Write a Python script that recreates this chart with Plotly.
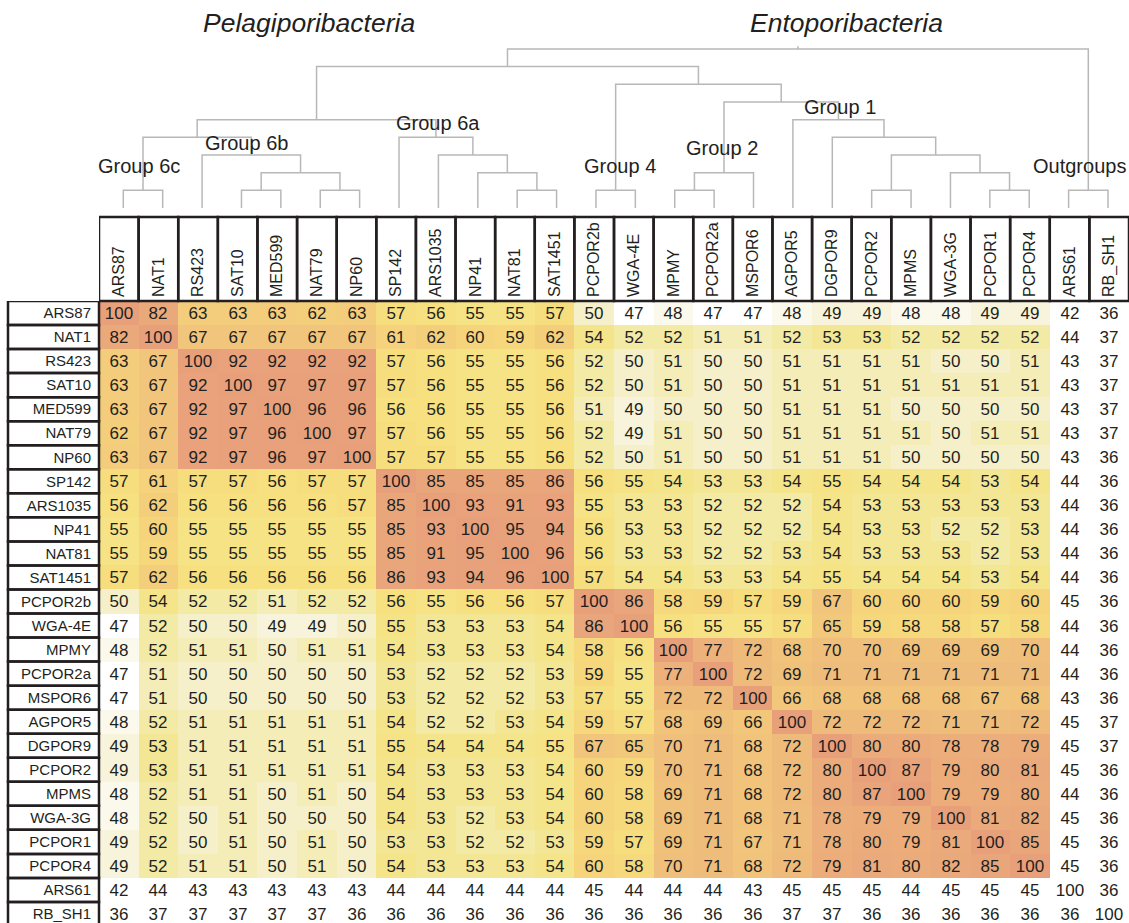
import plotly.graph_objects as go

# ---------------- data ----------------
strains = ["ARS87", "NAT1", "RS423", "SAT10", "MED599", "NAT79", "NP60",
           "SP142", "ARS1035", "NP41", "NAT81", "SAT1451",
           "PCPOR2b", "WGA-4E", "MPMY", "PCPOR2a", "MSPOR6", "AGPOR5",
           "DGPOR9", "PCPOR2", "MPMS", "WGA-3G", "PCPOR1", "PCPOR4",
           "ARS61", "RB_SH1"]
outgroups = ["ARS61", "RB_SH1"]

identity = [
    [100, 82, 63, 63, 63, 62, 63, 57, 56, 55, 55, 57, 50, 47, 48, 47, 47, 48, 49, 49, 48, 48, 49, 49, 42, 36],
    [82, 100, 67, 67, 67, 67, 67, 61, 62, 60, 59, 62, 54, 52, 52, 51, 51, 52, 53, 53, 52, 52, 52, 52, 44, 37],
    [63, 67, 100, 92, 92, 92, 92, 57, 56, 55, 55, 56, 52, 50, 51, 50, 50, 51, 51, 51, 51, 50, 50, 51, 43, 37],
    [63, 67, 92, 100, 97, 97, 97, 57, 56, 55, 55, 56, 52, 50, 51, 50, 50, 51, 51, 51, 51, 51, 51, 51, 43, 37],
    [63, 67, 92, 97, 100, 96, 96, 56, 56, 55, 55, 56, 51, 49, 50, 50, 50, 51, 51, 51, 50, 50, 50, 50, 43, 37],
    [62, 67, 92, 97, 96, 100, 97, 57, 56, 55, 55, 56, 52, 49, 51, 50, 50, 51, 51, 51, 51, 50, 51, 51, 43, 37],
    [63, 67, 92, 97, 96, 97, 100, 57, 57, 55, 55, 56, 52, 50, 51, 50, 50, 51, 51, 51, 50, 50, 50, 50, 43, 36],
    [57, 61, 57, 57, 56, 57, 57, 100, 85, 85, 85, 86, 56, 55, 54, 53, 53, 54, 55, 54, 54, 54, 53, 54, 44, 36],
    [56, 62, 56, 56, 56, 56, 57, 85, 100, 93, 91, 93, 55, 53, 53, 52, 52, 52, 54, 53, 53, 53, 53, 53, 44, 36],
    [55, 60, 55, 55, 55, 55, 55, 85, 93, 100, 95, 94, 56, 53, 53, 52, 52, 52, 54, 53, 53, 52, 52, 53, 44, 36],
    [55, 59, 55, 55, 55, 55, 55, 85, 91, 95, 100, 96, 56, 53, 53, 52, 52, 53, 54, 53, 53, 53, 52, 53, 44, 36],
    [57, 62, 56, 56, 56, 56, 56, 86, 93, 94, 96, 100, 57, 54, 54, 53, 53, 54, 55, 54, 54, 54, 53, 54, 44, 36],
    [50, 54, 52, 52, 51, 52, 52, 56, 55, 56, 56, 57, 100, 86, 58, 59, 57, 59, 67, 60, 60, 60, 59, 60, 45, 36],
    [47, 52, 50, 50, 49, 49, 50, 55, 53, 53, 53, 54, 86, 100, 56, 55, 55, 57, 65, 59, 58, 58, 57, 58, 44, 36],
    [48, 52, 51, 51, 50, 51, 51, 54, 53, 53, 53, 54, 58, 56, 100, 77, 72, 68, 70, 70, 69, 69, 69, 70, 44, 36],
    [47, 51, 50, 50, 50, 50, 50, 53, 52, 52, 52, 53, 59, 55, 77, 100, 72, 69, 71, 71, 71, 71, 71, 71, 44, 36],
    [47, 51, 50, 50, 50, 50, 50, 53, 52, 52, 52, 53, 57, 55, 72, 72, 100, 66, 68, 68, 68, 68, 67, 68, 43, 36],
    [48, 52, 51, 51, 51, 51, 51, 54, 52, 52, 53, 54, 59, 57, 68, 69, 66, 100, 72, 72, 72, 71, 71, 72, 45, 37],
    [49, 53, 51, 51, 51, 51, 51, 55, 54, 54, 54, 55, 67, 65, 70, 71, 68, 72, 100, 80, 80, 78, 78, 79, 45, 37],
    [49, 53, 51, 51, 51, 51, 51, 54, 53, 53, 53, 54, 60, 59, 70, 71, 68, 72, 80, 100, 87, 79, 80, 81, 45, 36],
    [48, 52, 51, 51, 50, 51, 50, 54, 53, 53, 53, 54, 60, 58, 69, 71, 68, 72, 80, 87, 100, 79, 79, 80, 44, 36],
    [48, 52, 50, 51, 50, 50, 50, 54, 53, 52, 53, 54, 60, 58, 69, 71, 68, 71, 78, 79, 79, 100, 81, 82, 45, 36],
    [49, 52, 50, 51, 50, 51, 50, 53, 53, 52, 52, 53, 59, 57, 69, 71, 67, 71, 78, 80, 79, 81, 100, 85, 45, 36],
    [49, 52, 51, 51, 50, 51, 50, 54, 53, 53, 53, 54, 60, 58, 70, 71, 68, 72, 79, 81, 80, 82, 85, 100, 45, 36],
    [42, 44, 43, 43, 43, 43, 43, 44, 44, 44, 44, 44, 45, 44, 44, 44, 43, 45, 45, 45, 44, 45, 45, 45, 100, 36],
    [36, 37, 37, 37, 37, 37, 36, 36, 36, 36, 36, 36, 36, 36, 36, 36, 36, 37, 37, 36, 36, 36, 36, 36, 36, 100],
]

# dendrogram merges (child a, child b, level); leaves are 0..25, new nodes 26..
merges = [
    (0, 1, 1), (3, 4, 1), (5, 6, 1), (27, 28, 2), (2, 29, 3), (26, 30, 4),
    (10, 11, 1), (9, 32, 2), (8, 33, 3), (7, 34, 4), (31, 35, 5),
    (12, 13, 1), (14, 15, 1), (38, 16, 2),
    (19, 20, 1), (22, 23, 1), (21, 41, 2), (40, 42, 3), (18, 43, 4), (17, 44, 5),
    (39, 45, 6), (37, 46, 7), (36, 47, 8),
    (24, 25, 1), (48, 49, 9),
]

group_labels = ["Group 6c", "Group 6b", "Group 6a", "Group 4", "Group 2", "Group 1", "Outgroups"]
group_x = [0.40, 3.14, 7.99, 12.6, 15.2, 18.2, 24.28]
group_y = [2.38, 3.68, 4.81, 2.38, 3.40, 5.72, 2.38]

clade_labels = ["Pelagiporibacteria", "Entoporibacteria"]
clade_x = [4.71, 18.37]
clade_y = [10.47, 10.47]

# ---------------- figure ----------------
W, H = 1129, 923
n = len(strains)
FONT = "Liberation Sans, Arial, sans-serif"

color_z = []
for i, row in enumerate(identity):
    crow = []
    for j, v in enumerate(row):
        if strains[i] in outgroups or strains[j] in outgroups:
            crow.append(36)
        else:
            crow.append(v)
    color_z.append(crow)
text = [[str(v) for v in row] for row in identity]

zmin, zmax = 46, 100
stops = [(46, "#FFFFFF"), (47, "#FFFFFF"), (48, "#FBF9EC"), (49, "#F8F4DC"),
         (50, "#F5F0CA"), (51, "#F4EDB8"), (52, "#F3EAA6"), (53, "#F3E796"),
         (54, "#F4E58A"), (56, "#F6E07F"), (58, "#F6D97C"), (62, "#F4CF7B"),
         (67, "#F1C57B"), (72, "#EFBB7B"), (80, "#EBAB7B"), (87, "#E9A47B"),
         (100, "#E8A07B")]
colorscale = [[(v - zmin) / (zmax - zmin), c] for v, c in stops]

fig = go.Figure()
fig.add_trace(go.Heatmap(
    z=color_z, x=list(range(n)), y=list(range(n)),
    text=text, texttemplate="%{text}",
    textfont=dict(family=FONT, size=17, color="#231f20"),
    colorscale=colorscale, zmin=zmin, zmax=zmax, showscale=False,
    hoverinfo="skip",
))

# dendrogram
pos = {i: float(i) for i in range(n)}
hgt = {i: 0.0 for i in range(n)}
dx, dy = [], []
node = n
for a, b, lvl in merges:
    xa, xb = pos[a], pos[b]
    dx += [xa, xa, xb, xb, None]
    dy += [hgt[a], lvl, lvl, hgt[b], None]
    pos[node] = (xa + xb) / 2
    hgt[node] = lvl
    node += 1
root = node - 1
dx += [pos[root], pos[root], None]
dy += [hgt[root], hgt[root] + 0.15, None]
fig.add_trace(go.Scatter(x=dx, y=dy, mode="lines", xaxis="x2", yaxis="y2",
                         line=dict(color="#b8b8b8", width=1.5),
                         hoverinfo="skip", showlegend=False))

x_dom = [99 / W, 1.0]
heat_top = 1 - 301 / H

fig.update_layout(
    width=W, height=H, margin=dict(l=0, r=0, t=0, b=0),
    paper_bgcolor="white", plot_bgcolor="white", showlegend=False,
    font=dict(family=FONT, size=15, color="#231f20"),
    xaxis=dict(domain=x_dom, range=[-0.5, n - 0.5], side="top",
               tickmode="array", tickvals=list(range(n)), ticktext=strains,
               tickangle=-90, ticks="", showgrid=False, zeroline=False,
               showline=False, tickfont=dict(size=16, color="#231f20"),
               ticklabelstandoff=3),
    yaxis=dict(domain=[0, heat_top], range=[25.374, -0.5],
               tickmode="array", tickvals=list(range(n)), ticktext=strains,
               ticks="", showgrid=False, zeroline=False, showline=False,
               tickfont=dict(size=15, color="#231f20"), ticklabelstandoff=7),
    xaxis2=dict(domain=x_dom, range=[-0.617, 25.533], visible=False,
                anchor="y2"),
    yaxis2=dict(domain=[1 - 216 / H, 1], range=[-0.453, 11.77], visible=False,
                anchor="x2"),
)

shapes = []
for j in range(n):
    shapes.append(dict(type="rect", xref="x", yref="paper",
                       x0=j - 0.5, x1=j + 0.5, y0=heat_top, y1=1 - 217 / H,
                       line=dict(color="#231f20", width=2.5), fillcolor="rgba(0,0,0,0)"))
for i in range(n):
    shapes.append(dict(type="rect", xref="paper", yref="y",
                       x0=8 / W, x1=99 / W, y0=i - 0.5, y1=i + 0.5,
                       line=dict(color="#231f20", width=2.5), fillcolor="rgba(0,0,0,0)"))
fig.update_layout(shapes=shapes)

annotations = []
for lab, x, y in zip(group_labels, group_x, group_y):
    annotations.append(dict(text=lab, x=x, y=y, xref="x2", yref="y2",
                            showarrow=False, xanchor="center", yanchor="middle",
                            font=dict(family=FONT, size=20, color="#231f20")))
for lab, x, y in zip(clade_labels, clade_x, clade_y):
    annotations.append(dict(text="<i>" + lab + "</i>", x=x, y=y, xref="x2", yref="y2",
                            showarrow=False, xanchor="center", yanchor="middle",
                            font=dict(family=FONT, size=26.5, color="#231f20")))
fig.update_layout(annotations=annotations)

fig.write_html("out.html", config={"displayModeBar": False},
               post_script="document.body.style.margin='0';document.body.style.overflow='hidden';")
